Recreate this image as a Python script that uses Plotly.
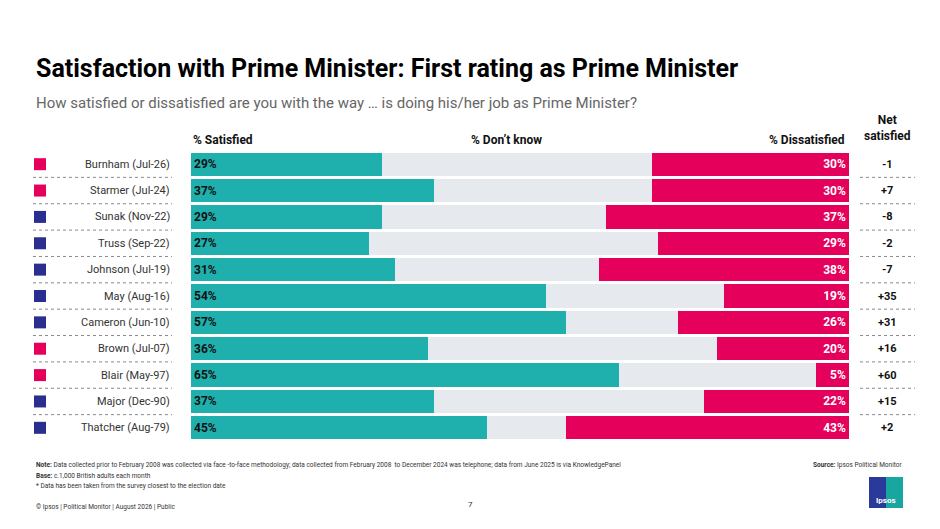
import plotly.graph_objects as go

# Data (top to bottom)
leaders = ["Burnham (Jul-26)", "Starmer (Jul-24)", "Sunak (Nov-22)", "Truss (Sep-22)",
           "Johnson (Jul-19)", "May (Aug-16)", "Cameron (Jun-10)", "Brown (Jul-07)",
           "Blair (May-97)", "Major (Dec-90)", "Thatcher (Aug-79)"]
party = ["Lab", "Lab", "Con", "Con", "Con", "Con", "Con", "Lab", "Lab", "Con", "Con"]
satisfied = [29, 37, 29, 27, 31, 54, 57, 36, 65, 37, 45]
dissatisfied = [30, 30, 37, 29, 38, 19, 26, 20, 5, 22, 43]
net = ["-1", "+7", "-8", "-2", "-7", "+35", "+31", "+16", "+60", "+15", "+2"]
dont_know = [100 - s - d for s, d in zip(satisfied, dissatisfied)]

TEAL = "#1fb0ad"
GREY = "#e6e9ee"
RED = "#e4005b"
NAVY = "#2a2f8f"
party_col = {"Lab": RED, "Con": NAVY}

W, H = 940, 529
x0, x1 = 191 / W, 849 / W
y_top, y_bot = 1 - 151 / H, 1 - 441 / H
n = len(leaders)
cats = list(range(n))

fig = go.Figure()
fig.add_trace(go.Bar(y=cats, x=satisfied, orientation="h", marker=dict(color=TEAL, line_width=0),
                     text=[f"<b>{v}%</b>" for v in satisfied], textposition="inside", insidetextanchor="start",
                     textfont=dict(family="Roboto", size=12, color="#111"), hoverinfo="skip"))
fig.add_trace(go.Bar(y=cats, x=dont_know, orientation="h", marker=dict(color=GREY, line_width=0),
                     hoverinfo="skip"))
fig.add_trace(go.Bar(y=cats, x=dissatisfied, orientation="h", marker=dict(color=RED, line_width=0),
                     text=[f"<b>{v}%</b>" for v in dissatisfied], textposition="inside", insidetextanchor="end",
                     textfont=dict(family="Roboto", size=12, color="white"), hoverinfo="skip"))

fig.update_layout(
    width=W, height=H, margin=dict(l=0, r=0, t=0, b=0),
    barmode="stack", bargap=0.12, showlegend=False,
    plot_bgcolor="white", paper_bgcolor="white",
    uniformtext=dict(minsize=8, mode="show"),
    font=dict(family="Roboto", color="#222"),
    xaxis=dict(domain=[x0, x1], range=[0, 100], visible=False),
    yaxis=dict(domain=[y_bot, y_top], range=[n - 0.5, -0.5], visible=False),
)


def note(x, y, text, size, color="#222", anchor="left"):
    fig.add_annotation(x=x / W, y=1 - y / H, xref="paper", yref="paper", xanchor=anchor, yanchor="middle",
                       text=text, showarrow=False, font=dict(size=size, color=color))


def yp(i):
    return y_top - (i + 0.5) / n * (y_top - y_bot)


row_h = (y_top - y_bot) / n
for i, name in enumerate(leaders):
    ypix = (1 - yp(i)) * H
    note(172, ypix, name, 11, "#333", "right")
    note(887, ypix, f"<b>{net[i]}</b>", 11, "#111", "center")
    fig.add_shape(type="rect", xref="paper", yref="paper", x0=34 / W, x1=46 / W,
                  y0=yp(i) - 6 / H, y1=yp(i) + 6 / H, fillcolor=party_col[party[i]], line_width=0)
    if i < n - 1:
        yl = yp(i) - row_h / 2
        for a, b in [(33, 172), (860, 915)]:
            fig.add_shape(type="line", xref="paper", yref="paper", x0=a / W, x1=b / W, y0=yl, y1=yl,
                          line=dict(color="#888", width=1, dash="dot"))

# Headers and text
note(34, 68, "<b>Satisfaction with Prime Minister: First rating as Prime Minister</b>", 25, "#000")
note(34, 103, "How satisfied or dissatisfied are you with the way … is doing his/her job as Prime Minister?", 15, "#666")
note(191, 140, "<b>% Satisfied</b>", 12, "#111")
note(506, 140, "<b>% Don’t know</b>", 12, "#111", "center")
note(847, 140, "<b>% Dissatisfied</b>", 12, "#111", "right")
note(887, 128, "<b>Net<br>satisfied</b>", 12, "#111", "center")

note(34, 465, "<b>Note:</b> Data collected prior to February 2008 was collected via face -to-face methodology; data collected from February 2008  to December 2024 was telephone; data from June 2025 is via KnowledgePanel", 6.5, "#333")
note(34, 476, "<b>Base:</b> c.1,000 British adults each month", 6.5, "#333")
note(34, 486, "* Data has been taken from the survey closest to the election date", 6.5, "#333")
note(34, 507, "© Ipsos | Political Monitor | August 2026 | Public", 6.5, "#333")
note(905, 465, "<b>Source:</b> Ipsos Political Monitor", 6.5, "#333", "right")
note(470, 504, "7", 8, "#333", "center")

# Ipsos logo block
fig.add_shape(type="rect", xref="paper", yref="paper", x0=869 / W, x1=886 / W, y0=1 - 508 / H, y1=1 - 477 / H,
              fillcolor="#2a3a9a", line_width=0)
fig.add_shape(type="rect", xref="paper", yref="paper", x0=886 / W, x1=903 / W, y0=1 - 508 / H, y1=1 - 477 / H,
              fillcolor="#18a6a0", line_width=0)
note(886, 500, "<b>Ipsos</b>", 8, "white", "center")

fig.write_html("out.html", config={"displayModeBar": False},
               post_script="document.body.style.margin='0';")
